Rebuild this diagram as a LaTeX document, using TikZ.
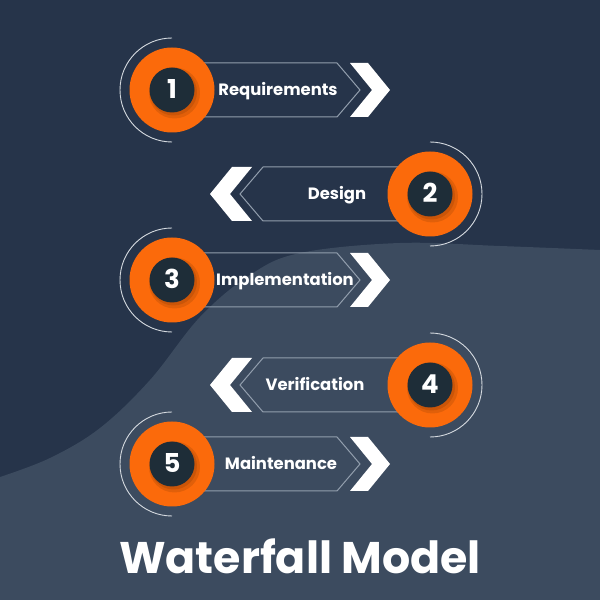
\documentclass[tikz,border=0pt]{standalone}
\usepackage{fontspec}
\setmainfont{Poppins}
\usepackage{tikz}
\usetikzlibrary{positioning}

\definecolor{bgtop}{HTML}{26344A}
\definecolor{bgbot}{HTML}{3C4B5F}
\definecolor{orng}{HTML}{FB6A0B}
\definecolor{coredark}{HTML}{1E2D38}
\definecolor{rim}{HTML}{929EAD}
\definecolor{halo}{HTML}{D5DAE0}

\tikzset{
  ring/.style={circle, fill=orng, minimum size=85pt, inner sep=0pt},
  core/.style={circle, fill=coredark, minimum size=45pt, inner sep=0pt},
  digit/.style={text=white, anchor=base, font=\bfseries\fontsize{26}{26}\selectfont},
  steptext/.style={text=white, anchor=base, font=\bfseries\fontsize{16.4}{16.4}\selectfont},
  banner/.style={draw=rim, line width=1pt, line join=miter},
  halo/.style={draw=halo, line width=0.9pt},
}

\begin{document}
\begin{tikzpicture}[x=1pt, y=1pt]
  \useasboundingbox (0,0) rectangle (600,600);
  \fill[bgtop] (0,0) rectangle (600,600);
  % lighter lower part with the wave
  \fill[bgbot] plot[smooth, tension=0.6] coordinates {(0,123) (50,142) (100,172) (150,220) (200,283) (250,325) (300,347) (400,357) (500,354) (600,350)}
    -- (600,0) -- (0,0) -- cycle;

  % steps on the left: circle left, arrow to the right
  \foreach \n/\y/\txt/\tx in {1/510/Requirements/278, 3/320/Implementation/285, 5/136/Maintenance/281} {
    \draw[banner] (172,\y+27) -- (337,\y+27) -- (360,\y) -- (337,\y-27) -- (172,\y-27);
    \fill[white] (350,\y+27) -- (368,\y+27) -- (390,\y) -- (368,\y-27) -- (350,\y-27) -- (372,\y) -- cycle;
    \draw[halo] (172,\y+52) arc[start angle=90, end angle=270, radius=52];
    \node[ring] (ring\n) at (172,\y) {};
    \fill[black, opacity=0.10] (174.5,\y-3) circle (25.5);
    \fill[black, opacity=0.10] (173.5,\y-2) circle (23.5);
    \node[core] (core\n) at (172,\y) {};
    \node[digit] at ([yshift=-9pt]core\n.center) {\n};
    \node[steptext] (txt\n) at (\tx,\y-6) {\txt};
  }

  % steps on the right: circle right, arrow to the left
  \foreach \n/\y/\txt/\tx in {2/406/Design/337, 4/215/Verification/315} {
    \draw[banner] (430,\y+27) -- (263,\y+27) -- (240,\y) -- (263,\y-27) -- (430,\y-27);
    \fill[white] (252,\y+27) -- (232,\y+27) -- (210,\y) -- (232,\y-27) -- (252,\y-27) -- (230,\y) -- cycle;
    \draw[halo] (430,\y+52) arc[start angle=90, end angle=-90, radius=52];
    \node[ring] (ring\n) at (430,\y) {};
    \fill[black, opacity=0.10] (432.5,\y-3) circle (25.5);
    \fill[black, opacity=0.10] (431.5,\y-2) circle (23.5);
    \node[core] (core\n) at (430,\y) {};
    \node[digit] at ([yshift=-9pt]core\n.center) {\n};
    \node[steptext] (txt\n) at (\tx,\y-6) {\txt};
  }

  \node[text=white, anchor=base, font=\bfseries\fontsize{44.3}{44.3}\selectfont] (title) at (300,26) {Waterfall Model};
\end{tikzpicture}
\end{document}
